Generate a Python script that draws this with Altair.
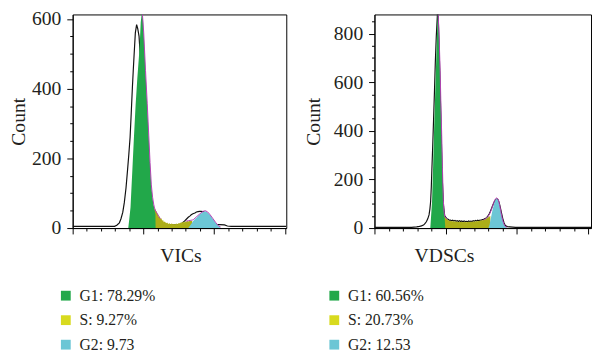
import altair as alt
import pandas as pd

FONT = "Liberation Serif"
TXT = "#231f20"
C_G1 = "#22a84a"
C_S_KEY = "#d8da1e"
C_G2 = "#6cc6d5"
C_FIT = "#b540b5"
C_RAW = "#111111"

# ---------------- VICs ----------------
vic_labels = ["G1: 78.29%", "S: 9.27%", "G2: 9.73"]
vic_raw_x = [0, 29.6, 31.2, 33.0, 34.1, 35.4, 36.5, 37.7, 38.8, 39.7, 40.6, 41.4, 42.2, 42.8, 43.4, 44.3,
             45.2, 46.0, 46.9, 48.5, 50.6, 52.6, 54.7, 56.8, 59.6, 62, 65, 68, 71, 73.6, 75.5, 77, 79, 80.5,
             81.7, 83, 83.8, 85, 86.4, 87.5, 88.6, 89.8, 90.7, 92, 92.8, 95.6, 98.3, 101, 103.9, 107.3,
             109.4, 112, 151]
vic_raw_y = [5, 5, 8, 15, 26, 45, 73, 115, 167, 212, 261, 330, 402, 450, 495, 560, 584, 572, 551, 450,
             300, 150, 60, 28, 18, 12, 10, 10, 9, 10, 11, 13, 20, 26, 31, 35, 38, 41, 43, 46, 47, 48, 48,
             47, 46, 35, 20, 11, 10, 9, 6, 5, 5]
vic_g1_x = [39.3, 40.0, 40.9, 41.5, 42.2, 43.3, 44.5, 45.7, 46.9, 47.6, 48.1, 48.7, 49.2, 49.7, 50.2,
            50.9, 51.5, 52.7, 53.8, 54.7, 55.6, 56.5, 57.3, 58.0, 58.5, 58.6]
vic_g1_y = [0, 25, 60, 110, 167, 260, 354, 430, 495, 545, 590, 612, 619, 600, 560, 505, 449, 355, 261,
            185, 120, 85, 64, 50, 40, 0]
vic_s_x = [55.5, 56.5, 57.3, 57.8, 58.3, 58.9, 59.4, 59.8, 60.4, 60.9, 61.5, 62.1, 62.7, 63.3, 63.9,
           64.4, 65.2, 66.0, 66.8, 67.6, 68.4, 69.2, 70.0, 70.8, 71.6, 72.4, 73.2, 74.0, 74.8, 75.6,
           76.4, 77.2, 78.0, 78.8, 79.6, 80.4, 81.2, 82.0, 82.8, 83.6, 84.5, 84.6]
vic_s_y = [70, 62, 64, 52, 56, 47, 49, 42, 38, 32, 34, 26, 28, 21, 23, 17, 19, 14, 16, 12, 14, 11, 13,
           11, 12, 10, 13, 11, 14, 13, 16, 15, 18, 16, 19, 18, 20, 19, 21, 20, 20, 0]
vic_g2_x = [81.7, 83.8, 85.2, 87.3, 88.7, 90.0, 91.4, 92.8, 93.9, 94.9, 97.0, 99.0, 101.1, 103.2, 104.6]
vic_g2_y = [0, 12, 20, 29, 35, 40, 44, 47, 48, 46, 38, 27, 15, 5, 0]
vic_fit1_x = [49.2, 50.2, 51.5, 52.7, 53.8, 54.7, 55.6, 56.5, 57.3, 58.0, 58.9, 59.8, 60.9, 62.1]
vic_fit1_y = [619, 562, 452, 358, 265, 188, 124, 88, 68, 55, 47, 42, 33, 27]
vic_fit2_x = [80.0, 81.7, 83.0, 84.5, 85.2, 87.3, 88.7, 90.0, 91.4, 92.8, 94.0, 95.5, 97.0, 99.0, 101.1,
              103.2, 104.6]
vic_fit2_y = [20, 21, 22, 23, 24, 31, 37, 41, 46, 49, 49.5, 46, 39, 28, 16, 6, 3]

# ---------------- VDSCs ----------------
vdsc_labels = ["G1: 60.56%", "S: 20.73%", "G2: 12.53"]
vdsc_raw_x = [0, 26, 29.6, 31.6, 33.0, 34.4, 35.1, 35.8, 36.5, 37.4, 38.3, 38.9, 39.4, 39.9, 40.3, 40.9,
              41.5, 42.1, 42.7, 43.4, 44.2, 44.6, 45.3, 46.0, 46.8, 47.6, 48.5, 49.3, 50.1, 50.9, 51.7,
              52.5, 53.3, 54.1, 54.9, 55.7, 56.5, 57.3, 58.1, 58.9, 59.7, 60.5, 61.3, 62.1, 62.9, 63.7,
              64.5, 65.3, 66.1, 66.9, 67.7, 68.5, 69.3, 70.1, 70.9, 71.7, 72.5, 73.3, 74.1, 74.9, 75.7,
              76.5, 77.3, 78.1, 78.9, 79.7, 80.5, 81.3, 82.1, 82.9, 83.7, 84.5, 85.3, 86.1, 86.9, 87.7,
              88.5, 89.3, 90.1, 90.9, 91.7, 92.5, 93.3, 95, 97, 99, 152]
vdsc_raw_y = [3, 3, 5, 7, 9, 13, 16, 21, 27, 38, 54, 78, 108, 170, 242, 340, 450, 560, 680, 790, 880,
              900, 760, 600, 400, 200, 90, 50, 44, 38, 36, 32, 33, 30, 32, 29, 31, 28, 30, 27, 30, 27,
              29, 26, 29, 27, 28, 26, 29, 27, 29, 27, 30, 28, 31, 29, 32, 30, 33, 32, 35, 35, 38, 40,
              44, 50, 58, 68, 80, 92, 103, 112, 118, 120, 115, 100, 80, 58, 38, 22, 12, 8, 6, 5, 4, 3, 3]
vdsc_g1_x = [39.2, 40.4, 41.1, 41.7, 42.4, 43.1, 43.8, 44.5, 45.4, 46.1, 46.6, 47.2, 47.7, 48.3, 49.3, 49.7]
vdsc_g1_y = [0, 108, 242, 377, 511, 645, 780, 915, 780, 645, 511, 377, 242, 108, 40, 0]
vdsc_s_x = [48.5, 49.3, 50.1, 50.9, 51.7, 52.5, 53.3, 54.1, 54.9, 55.7, 56.5, 57.3, 58.1, 58.9, 59.7,
            60.5, 61.3, 62.1, 62.9, 63.7, 64.5, 65.3, 66.1, 66.9, 67.7, 68.5, 69.3, 70.1, 70.9, 71.7,
            72.5, 73.3, 74.1, 74.9, 75.7, 76.5, 77.3, 78.1, 78.9, 79.7, 80.5, 81.3, 81.4]
vdsc_s_y = [60, 45, 40, 36, 32, 30, 29, 28, 28, 27, 27, 26, 26, 25, 26, 25, 25, 24, 25, 25, 24, 25, 25,
            26, 25, 26, 26, 27, 27, 28, 28, 29, 30, 31, 32, 33, 35, 37, 40, 43, 47, 50, 0]
vdsc_g2_x = [80.0, 80.8, 81.5, 82.2, 82.9, 83.6, 84.3, 85.0, 85.8, 86.5, 87.2, 87.9, 88.6, 89.3, 90.0,
             90.8, 91.5, 92.3, 93.0]
vdsc_g2_y = [0, 15, 35, 55, 75, 92, 108, 117, 121, 118, 108, 90, 68, 48, 30, 16, 8, 3, 0]
vdsc_fit1_x = [44.5, 45.4, 46.1, 46.6, 47.2, 47.7, 48.3, 48.8, 49.3, 50.1, 50.9]
vdsc_fit1_y = [915, 782, 648, 515, 382, 248, 115, 70, 48, 42, 38]
vdsc_fit2_x = [76.5, 77.3, 78.1, 78.9, 79.7, 80.5, 81.3, 82.2, 82.9, 83.6, 84.3, 85.0, 85.8, 86.5, 87.2,
               87.9, 88.6, 89.3, 90.0, 90.8, 91.5, 92.3, 93.0]
vdsc_fit2_y = [34, 36, 39, 43, 48, 55, 64, 78, 90, 102, 114, 121, 124, 121, 111, 93, 71, 50, 32, 18, 9, 5, 3]


def xy(xs, ys, **extra):
    d = pd.DataFrame({"x": xs, "y": ys})
    for k, v in extra.items():
        d[k] = v
    return d


def panel(title, labels, raw, g1, s, g2, fit1, fit2, xmax, ymax, width, height, title_x,
          legend_x, legend_y, ytitle_pad):
    xs = alt.Scale(domain=[0, xmax], nice=False, zero=False)
    ys = alt.Scale(domain=[0, ymax], nice=False, zero=False)
    ytop = int(ymax // 50 * 50)
    yaxis = alt.Axis(
        title="Count", values=list(range(0, ytop + 1, 50)),
        labelExpr="datum.value % 200 === 0 ? datum.label : ''",
        tickSize={"condition": {"test": "datum.value % 200 === 0", "value": 6}, "value": 3},
        grid=False, labelFontSize=20, titleFontSize=20, labelPadding=6, titlePadding=ytitle_pad,
        labelFont=FONT, titleFont=FONT, labelColor=TXT, titleColor=TXT, titleFontWeight="normal",
        domainColor="black", tickColor="black", domainWidth=1, tickWidth=1,
    )
    xaxis = alt.Axis(
        title=title, values=list(range(0, 151, 10)), labels=False,
        tickSize={"condition": {"test": "datum.value % 50 === 0", "value": 6}, "value": 3},
        grid=False, titleFontSize=20, titlePadding=12, titleFont=FONT, titleColor=TXT,
        titleFontWeight="normal", titleX=title_x, domainColor="black", tickColor="black",
        domainWidth=1, tickWidth=1,
    )
    X = alt.X("x:Q", scale=xs, axis=xaxis)
    Y = alt.Y("y:Q", scale=ys, axis=yaxis, stack=None)
    legend = alt.Legend(
        title=None, orient="none", legendX=legend_x, legendY=legend_y, direction="vertical",
        symbolType="square", symbolSize=100, symbolStrokeWidth=0, symbolOpacity=1,
        labelFontSize=16, labelFont=FONT, labelColor=TXT, rowPadding=9, labelOffset=6, labelLimit=0,
    )
    color = alt.Color("phase:N", scale=alt.Scale(domain=labels, range=[C_G1, C_S_KEY, C_G2]),
                      legend=legend)

    raw_layer = alt.Chart(xy(*raw)).mark_line(color=C_RAW, strokeWidth=1.2, clip=True).encode(x=X, y=Y)

    areas = pd.concat([xy(*g1, phase=labels[0]), xy(*s, phase=labels[1]), xy(*g2, phase=labels[2])])

    def area(label):
        return alt.Chart(areas).transform_filter(alt.datum.phase == label).mark_area(
            clip=True, opacity=1).encode(x=X, y=Y, color=color)

    # darkening veil that turns the yellow S fill into the olive tone of the plot
    s_veil = alt.Chart(areas).transform_filter(alt.datum.phase == labels[1]).mark_area(
        clip=True, color="black", opacity=0.2).encode(x=X, y=Y)

    fit_df = pd.concat([xy(*fit1, seg="a"), xy(*fit2, seg="b")])
    fit_layer = alt.Chart(fit_df).mark_line(color=C_FIT, strokeWidth=1, clip=True).encode(
        x=X, y=Y, detail="seg:N")

    return alt.layer(raw_layer, area(labels[1]), s_veil, area(labels[0]), area(labels[2]),
                     fit_layer).properties(width=width, height=height)


left = panel("VICs", vic_labels, (vic_raw_x, vic_raw_y), (vic_g1_x, vic_g1_y), (vic_s_x, vic_s_y),
             (vic_g2_x, vic_g2_y), (vic_fit1_x, vic_fit1_y), (vic_fit2_x, vic_fit2_y),
             151, 613, 218, 218, 110, -15, 279, 3)
right = panel("VDSCs", vdsc_labels, (vdsc_raw_x, vdsc_raw_y), (vdsc_g1_x, vdsc_g1_y), (vdsc_s_x, vdsc_s_y),
              (vdsc_g2_x, vdsc_g2_y), (vdsc_fit1_x, vdsc_fit1_y), (vdsc_fit2_x, vdsc_fit2_y),
              152, 879, 221, 218, 71, -49, 279, 10)

chart = alt.hconcat(left, right, spacing=16).resolve_scale(color="independent").properties(
    padding={"left": 0, "top": -3, "right": 0, "bottom": 0}, background="white"
).configure_view(stroke="black", strokeWidth=1)

chart.save("out.html", embed_options={"renderer": "svg", "actions": False})
